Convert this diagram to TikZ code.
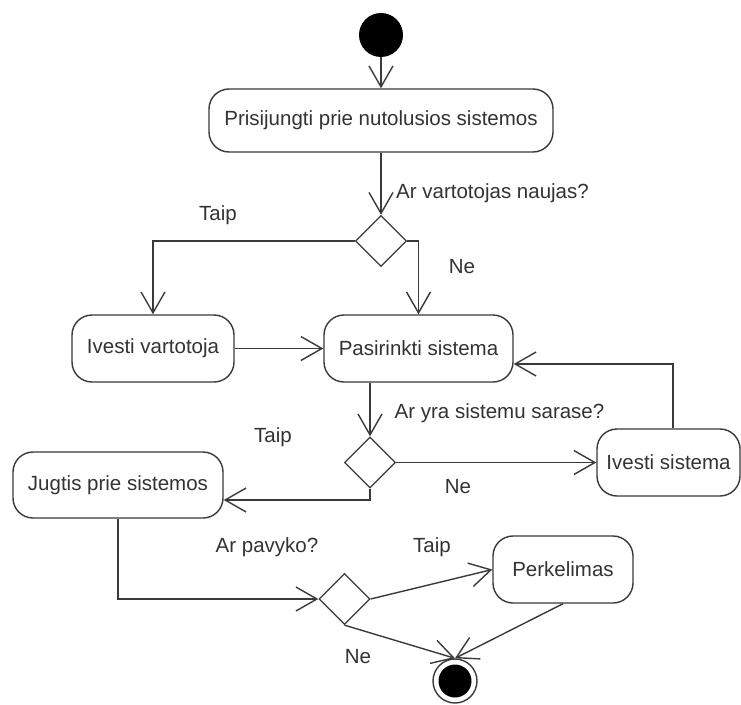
\documentclass[tikz,border=0pt]{standalone}
\usepackage{fontspec}
\setmainfont{Liberation Sans}
\usetikzlibrary{shapes.geometric,arrows.meta}
\definecolor{ink}{HTML}{3A3A3A}
\definecolor{txt}{HTML}{333333}
\begin{document}
\begin{tikzpicture}[x=1pt,y=-1pt,
  font=\fontsize{20.5}{24}\selectfont, text=txt,
  activity/.style={draw=ink, line width=1.4pt, rounded corners=20pt, inner sep=0pt, fill=white},
  choice/.style={draw=ink, line width=1.3pt, diamond, inner sep=0pt, minimum width=51pt, minimum height=51pt},
  flow/.style={draw=ink, line width=1.4pt, -{Straight Barb[length=21pt,width=24pt]}},
  guard/.style={inner sep=0pt}]
\useasboundingbox[fill=white] (0,0) rectangle (741,704);

% initial and final states
\node[circle, fill=black, minimum size=44pt, inner sep=0pt] (start) at (381,35) {};
\node[circle, draw=ink, line width=1.4pt, minimum size=44pt, inner sep=0pt] (stop) at (455,681) {};
\node[circle, fill=black, minimum size=33pt, inner sep=0pt] at (stop) {};

% activities
\node[activity, minimum width=344pt, minimum height=63pt] (b1) at (381,120.5) {Prisijungti prie nutolusios sistemos};
\node[activity, minimum width=162pt, minimum height=67pt] (b2) at (153,348.5) {Ivesti vartotoja};
\node[activity, minimum width=189pt, minimum height=67pt] (b3) at (418.5,348.5) {Pasirinkti sistema};
\node[activity, minimum width=143pt, minimum height=67pt] (b4) at (668.5,462.5) {Ivesti sistema};
\node[activity, minimum width=210pt, minimum height=66pt] (b5) at (118,485) {Jugtis prie sistemos};
\node[activity, minimum width=140pt, minimum height=67pt] (b6) at (563,569.5) {Perkelimas};

% decisions
\node[choice] (d1) at (381,241) {};
\node[choice] (d2) at (370,462.5) {};
\node[choice] (d3) at (344.5,599) {};

% transitions
\draw[flow] (start) -- (b1);
\draw[flow] (b1) -- (d1);
\draw[flow] (d1.west) -| (b2.north);
\draw[flow] (d1.east) -| (b3.north);
\draw[flow] (b2) -- (b3);
\draw[flow] (b3.south -| d2.north) -- (d2.north);
\draw[flow] (d2.east) -- (d2.east -| b4.west);
\draw[flow] ([xshift=4.5pt]b4.north) |- ([yshift=-15.5pt]b3.east);
\draw[flow] (d2.south) |- ([yshift=-15pt]b5.east);
\draw[flow] (b5.south) |- (d3.west);
\draw[flow] (d3.east) -- (b6.west);
\draw[flow] (d3.south) -- (stop.north);
\draw[flow] (b6.south) -- (stop.north);

% guards
\node[guard] (q1) at (492.5,193) {Ar vartotojas naujas?};
\node[guard] (t1) at (218,215) {Taip};
\node[guard] (n1) at (462,267) {Ne};
\node[guard] (q2) at (499.5,413) {Ar yra sistemu sarase?};
\node[guard] (t2) at (273,437) {Taip};
\node[guard] (n2) at (458,487) {Ne};
\node[guard] (q3) at (267,547) {Ar pavyko?};
\node[guard] (t3) at (432,547) {Taip};
\node[guard] (n3) at (358,657) {Ne};
\end{tikzpicture}
\end{document}
